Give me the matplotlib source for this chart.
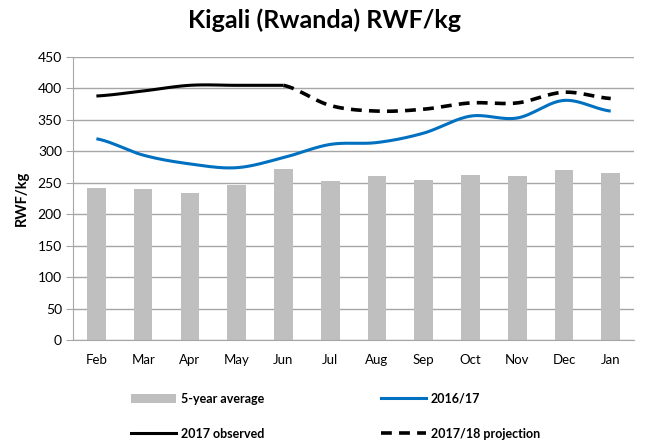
import numpy as np
import matplotlib
matplotlib.use("Agg")
import matplotlib.pyplot as plt
from matplotlib.patches import Patch
from matplotlib.lines import Line2D

months = ["Feb", "Mar", "Apr", "May", "Jun", "Jul", "Aug", "Sep", "Oct", "Nov", "Dec", "Jan"]
avg5 = [242, 240, 234, 246, 272, 253, 260, 255, 262, 260, 270, 266]
s2016 = [320, 294, 280, 274, 290, 311, 314, 329, 356, 353, 381, 364]
obs2017 = [388, 396, 405, 405, 405]
proj = [405, 373, 364, 367, 377, 377, 394, 384]

plt.rcParams['font.family'] = ['Lato', 'DejaVu Sans']


def smooth(xs, ys, n=30):
    # Catmull-Rom style smoothing as used by spreadsheet "smoothed lines"
    xs = np.asarray(xs, float)
    ys = np.asarray(ys, float)
    px = np.concatenate([[2 * xs[0] - xs[1]], xs, [2 * xs[-1] - xs[-2]]])
    py = np.concatenate([[ys[0]], ys, [ys[-1]]])
    outx, outy = [], []
    for i in range(1, len(px) - 2):
        p0, p1, p2, p3 = (np.array([px[j], py[j]]) for j in (i - 1, i, i + 1, i + 2))
        b1 = p1 + (p2 - p0) / 6
        b2 = p2 - (p3 - p1) / 6
        t = np.linspace(0, 1, n)[:, None]
        c = ((1 - t) ** 3) * p1 + 3 * ((1 - t) ** 2) * t * b1 + 3 * (1 - t) * t ** 2 * b2 + t ** 3 * p2
        outx.extend(c[:, 0]); outy.extend(c[:, 1])
    return outx, outy


fig = plt.figure(figsize=(6.49, 4.43), dpi=100)
ax = fig.add_axes([0.1125, 0.2325, 0.8645, 0.6388])

x = np.arange(len(months))
ax.bar(x, avg5, width=0.4, color="#BFBFBF", zorder=2)

sx, sy = smooth(x, s2016)
ax.plot(sx, sy, color="#0070C0", lw=2.2, zorder=3, solid_capstyle="butt")

ox, oy = smooth(x[:5], obs2017)
ax.plot(ox, oy, color="black", lw=2.2, zorder=4, solid_capstyle="butt")

px_, py_ = smooth(x[4:], proj)
ax.plot(px_, py_, color="black", lw=2.6, ls=(0, (3, 2)), zorder=4)

ax.set_xlim(-0.5, len(months) - 0.5)
ax.set_ylim(0, 450)
ax.set_yticks(np.arange(0, 451, 50))
ax.set_xticks(x)
ax.set_xticklabels(months)
ax.yaxis.grid(True, color="#A6A6A6", lw=1)
ax.set_axisbelow(True)
for s in ["top", "right"]:
    ax.spines[s].set_visible(False)
ax.spines["left"].set_color("#A6A6A6")
ax.spines["bottom"].set_color("#A6A6A6")
ax.tick_params(axis="y", length=5, color="#A6A6A6", labelsize=10, pad=3)
ax.tick_params(axis="x", length=0, labelsize=9.5, pad=10)
ax.set_ylabel("RWF/kg", fontsize=10.5, fontweight="bold", labelpad=6)

fig.suptitle("Kigali (Rwanda) RWF/kg", fontsize=18, fontweight="bold", y=0.98)

handles = [
    Patch(facecolor="#BFBFBF", edgecolor="none"),
    Line2D([], [], color="black", lw=2.2),
    Line2D([], [], color="#0070C0", lw=2.2),
    Line2D([], [], color="black", lw=2.6, ls=(0, (3, 2))),
]
labels = ["5-year average", "2017 observed", "2016/17", "2017/18 projection"]
fig.legend(handles, labels, ncol=2, loc="lower left", bbox_to_anchor=(0.185, -0.018),
           frameon=False, handlelength=3.6, handletextpad=0.4,
           columnspacing=9.3, labelspacing=1.85, prop={"weight": "bold", "size": 9})

fig.savefig("out.png", dpi=100)
